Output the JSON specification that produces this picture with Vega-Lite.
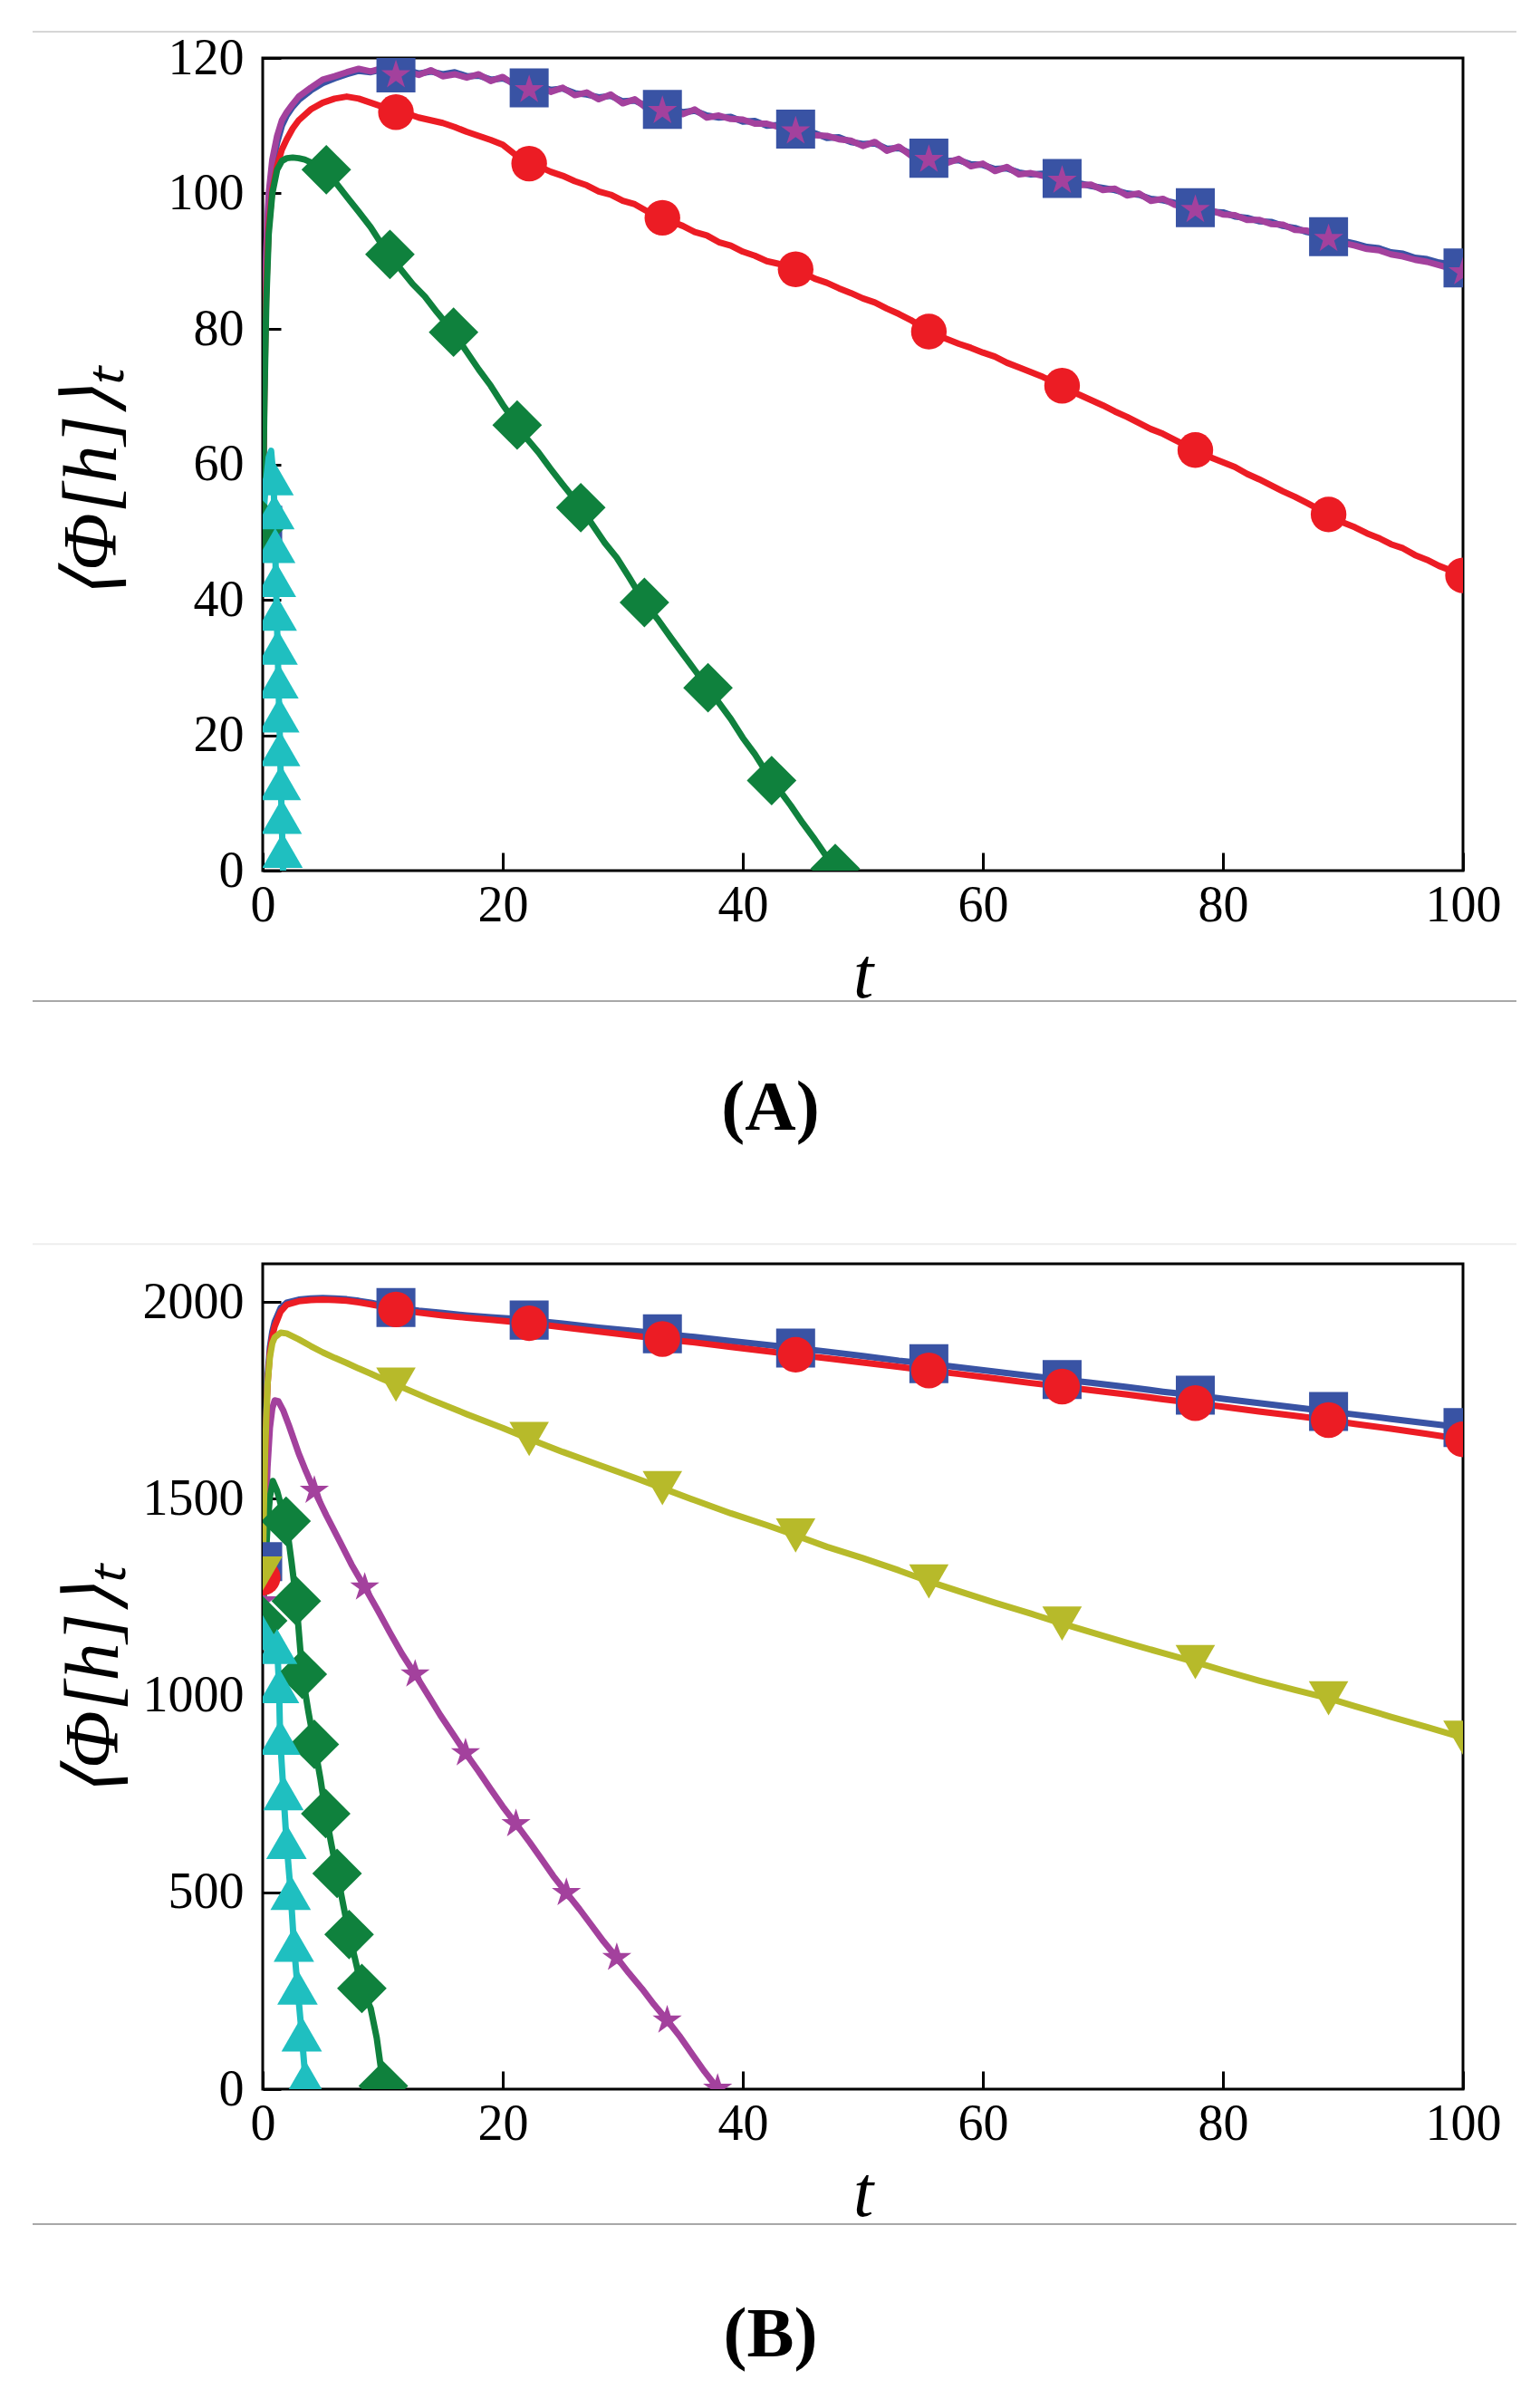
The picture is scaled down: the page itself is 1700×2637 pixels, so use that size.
{
"$schema":"https://vega.github.io/schema/vega-lite/v6.json",
"background":"white",
"padding":{"left":33,"top":32,"right":0,"bottom":0},
"config":{
 "view":{"stroke":"#000","strokeWidth":3},
 "axis":{"labelFont":"Liberation Serif","labelFontSize":56,"labelColor":"#000","tickColor":"#000","tickSize":-20,"tickWidth":3,"labelPadding":41,"domain":false,"grid":false,"labelFlush":false,"labelOverlap":false,"titleFont":"Liberation Serif","titleFontSize":80,"titleFontStyle":"italic","titleFontWeight":"normal","titleColor":"#000"},
 "axisX":{"titlePadding":10,"labelPadding":31},
 "axisY":{"titlePadding":40,"titleFontSize":84},
 "title":{"font":"Liberation Serif","fontSize":78,"fontWeight":"bold","color":"#000","orient":"bottom","anchor":"middle","frame":"group"}
},
"datasets":{
"a":[
{"s":"sq","t":0,"v":51,"m":1},{"s":"sq","t":0.15,"v":75},{"s":"sq","t":0.3,"v":90},{"s":"sq","t":0.5,"v":99},{"s":"sq","t":0.8,"v":104},{"s":"sq","t":1.2,"v":107.5},{"s":"sq","t":1.6,"v":110},{"s":"sq","t":2,"v":111.5},{"s":"sq","t":2.5,"v":112.8},{"s":"sq","t":3,"v":113.8},{"s":"sq","t":4,"v":115.2},{"s":"sq","t":5,"v":116.3},{"s":"sq","t":6,"v":117},{"s":"sq","t":7,"v":117.6},{"s":"sq","t":8,"v":118.1},{"s":"sq","t":9,"v":117.9},{"s":"sq","t":10,"v":118.3},{"s":"sq","t":11.1,"v":117.8,"m":1},{"s":"sq","t":12,"v":118.2},{"s":"sq","t":13,"v":117.7},{"s":"sq","t":14,"v":118},{"s":"sq","t":15,"v":117.6},{"s":"sq","t":16,"v":117.9},{"s":"sq","t":17,"v":117.3},{"s":"sq","t":18,"v":117.4},{"s":"sq","t":19,"v":116.8},{"s":"sq","t":20,"v":117},{"s":"sq","t":21,"v":116.2},{"s":"sq","t":22.2,"v":115.6,"m":1},{"s":"sq","t":23,"v":115.8},{"s":"sq","t":24,"v":115.3},{"s":"sq","t":25,"v":115.5},{"s":"sq","t":26,"v":114.8},{"s":"sq","t":27,"v":114.6},{"s":"sq","t":28,"v":114.2},{"s":"sq","t":29,"v":114.4},{"s":"sq","t":30,"v":113.6},{"s":"sq","t":31,"v":113.7},{"s":"sq","t":32,"v":112.9},{"s":"sq","t":33.3,"v":112.4,"m":1},{"s":"sq","t":34,"v":112.6},{"s":"sq","t":35,"v":112},{"s":"sq","t":36,"v":112.2},{"s":"sq","t":37,"v":111.5},{"s":"sq","t":38,"v":111.2},{"s":"sq","t":39,"v":111.3},{"s":"sq","t":40,"v":110.6},{"s":"sq","t":41,"v":110.7},{"s":"sq","t":42,"v":110},{"s":"sq","t":43,"v":110.1},{"s":"sq","t":44.4,"v":109.5,"m":1},{"s":"sq","t":45,"v":109},{"s":"sq","t":46,"v":108.9},{"s":"sq","t":47,"v":108.2},{"s":"sq","t":48,"v":108.3},{"s":"sq","t":49,"v":107.6},{"s":"sq","t":50,"v":107.3},{"s":"sq","t":51,"v":107.4},{"s":"sq","t":52,"v":106.6},{"s":"sq","t":53,"v":106.7},{"s":"sq","t":54,"v":105.9},{"s":"sq","t":55.5,"v":105.2,"m":1},{"s":"sq","t":56,"v":105.4},{"s":"sq","t":57,"v":104.8},{"s":"sq","t":58,"v":104.9},{"s":"sq","t":59,"v":104.3},{"s":"sq","t":60,"v":104.2},{"s":"sq","t":61,"v":103.6},{"s":"sq","t":62,"v":103.7},{"s":"sq","t":63,"v":103.1},{"s":"sq","t":64,"v":102.8},{"s":"sq","t":65,"v":102.9},{"s":"sq","t":66.6,"v":102.2,"m":1},{"s":"sq","t":67,"v":101.8},{"s":"sq","t":68,"v":101.5},{"s":"sq","t":69,"v":101.1},{"s":"sq","t":70,"v":100.8},{"s":"sq","t":71,"v":100.5},{"s":"sq","t":72,"v":100},{"s":"sq","t":73,"v":99.8},{"s":"sq","t":74,"v":99.2},{"s":"sq","t":75,"v":99},{"s":"sq","t":76,"v":98.6},{"s":"sq","t":77.7,"v":97.9,"m":1},{"s":"sq","t":78,"v":97.9},{"s":"sq","t":79,"v":97.3},{"s":"sq","t":80,"v":97.2},{"s":"sq","t":81,"v":96.6},{"s":"sq","t":82,"v":96.4},{"s":"sq","t":83,"v":95.9},{"s":"sq","t":84,"v":95.8},{"s":"sq","t":85,"v":95.2},{"s":"sq","t":86,"v":94.9},{"s":"sq","t":87,"v":94.3},{"s":"sq","t":88.8,"v":93.6,"m":1},{"s":"sq","t":89,"v":93.4},{"s":"sq","t":90,"v":93},{"s":"sq","t":91,"v":92.6},{"s":"sq","t":92,"v":92.1},{"s":"sq","t":93,"v":91.9},{"s":"sq","t":94,"v":91.3},{"s":"sq","t":95,"v":91.1},{"s":"sq","t":96,"v":90.5},{"s":"sq","t":97,"v":90.3},{"s":"sq","t":98,"v":89.8},{"s":"sq","t":99,"v":89.5},{"s":"sq","t":100,"v":89,"m":1},
{"s":"st","t":0,"v":51,"m":1},{"s":"st","t":0.15,"v":77},{"s":"st","t":0.3,"v":92},{"s":"st","t":0.5,"v":100},{"s":"st","t":0.8,"v":105},{"s":"st","t":1.2,"v":108.5},{"s":"st","t":1.6,"v":110.8},{"s":"st","t":2,"v":112},{"s":"st","t":2.5,"v":113.2},{"s":"st","t":3,"v":114.3},{"s":"st","t":4,"v":115.6},{"s":"st","t":5,"v":116.8},{"s":"st","t":6,"v":117.3},{"s":"st","t":7,"v":117.9},{"s":"st","t":8,"v":118.4},{"s":"st","t":9,"v":118},{"s":"st","t":10,"v":118.5},{"s":"st","t":11.1,"v":117.5,"m":1},{"s":"st","t":12,"v":118},{"s":"st","t":13,"v":117.5},{"s":"st","t":14,"v":118.2},{"s":"st","t":15,"v":117.3},{"s":"st","t":16,"v":117.6},{"s":"st","t":17,"v":117.1},{"s":"st","t":18,"v":117.6},{"s":"st","t":19,"v":116.6},{"s":"st","t":20,"v":117.2},{"s":"st","t":21,"v":116},{"s":"st","t":22.2,"v":115.3,"m":1},{"s":"st","t":23,"v":115.9},{"s":"st","t":24,"v":115},{"s":"st","t":25,"v":115.6},{"s":"st","t":26,"v":114.5},{"s":"st","t":27,"v":114.9},{"s":"st","t":28,"v":113.9},{"s":"st","t":29,"v":114.6},{"s":"st","t":30,"v":113.3},{"s":"st","t":31,"v":113.9},{"s":"st","t":32,"v":112.6},{"s":"st","t":33.3,"v":112.2,"m":1},{"s":"st","t":34,"v":112.8},{"s":"st","t":35,"v":111.7},{"s":"st","t":36,"v":112.4},{"s":"st","t":37,"v":111.2},{"s":"st","t":38,"v":111.5},{"s":"st","t":39,"v":111},{"s":"st","t":40,"v":110.9},{"s":"st","t":41,"v":110.3},{"s":"st","t":42,"v":110.3},{"s":"st","t":43,"v":109.8},{"s":"st","t":44.4,"v":109.2,"m":1},{"s":"st","t":45,"v":109.3},{"s":"st","t":46,"v":108.6},{"s":"st","t":47,"v":108.5},{"s":"st","t":48,"v":108},{"s":"st","t":49,"v":107.8},{"s":"st","t":50,"v":107},{"s":"st","t":51,"v":107.6},{"s":"st","t":52,"v":106.3},{"s":"st","t":53,"v":106.9},{"s":"st","t":54,"v":105.6},{"s":"st","t":55.5,"v":105,"m":1},{"s":"st","t":56,"v":105.6},{"s":"st","t":57,"v":104.5},{"s":"st","t":58,"v":105.1},{"s":"st","t":59,"v":104},{"s":"st","t":60,"v":104.4},{"s":"st","t":61,"v":103.3},{"s":"st","t":62,"v":103.9},{"s":"st","t":63,"v":102.8},{"s":"st","t":64,"v":103},{"s":"st","t":65,"v":102.6},{"s":"st","t":66.6,"v":101.9,"m":1},{"s":"st","t":67,"v":102},{"s":"st","t":68,"v":101.2},{"s":"st","t":69,"v":101.3},{"s":"st","t":70,"v":100.5},{"s":"st","t":71,"v":100.7},{"s":"st","t":72,"v":99.7},{"s":"st","t":73,"v":100},{"s":"st","t":74,"v":98.9},{"s":"st","t":75,"v":99.2},{"s":"st","t":76,"v":98.3},{"s":"st","t":77.7,"v":97.6,"m":1},{"s":"st","t":78,"v":97.6},{"s":"st","t":79,"v":97.5},{"s":"st","t":80,"v":96.9},{"s":"st","t":81,"v":96.8},{"s":"st","t":82,"v":96.1},{"s":"st","t":83,"v":96.1},{"s":"st","t":84,"v":95.5},{"s":"st","t":85,"v":95.4},{"s":"st","t":86,"v":94.6},{"s":"st","t":87,"v":94.5},{"s":"st","t":88.8,"v":93.3,"m":1},{"s":"st","t":89,"v":93.2},{"s":"st","t":90,"v":92.7},{"s":"st","t":91,"v":92.3},{"s":"st","t":92,"v":91.8},{"s":"st","t":93,"v":91.6},{"s":"st","t":94,"v":91},{"s":"st","t":95,"v":90.7},{"s":"st","t":96,"v":90.2},{"s":"st","t":97,"v":89.9},{"s":"st","t":98,"v":89.4},{"s":"st","t":99,"v":88.9},{"s":"st","t":100,"v":88.4,"m":1},
{"s":"ci","t":0,"v":51,"m":1},{"s":"ci","t":0.15,"v":72},{"s":"ci","t":0.3,"v":86},{"s":"ci","t":0.5,"v":95},{"s":"ci","t":0.8,"v":100.5},{"s":"ci","t":1.2,"v":104},{"s":"ci","t":1.6,"v":106.5},{"s":"ci","t":2,"v":108},{"s":"ci","t":2.5,"v":109.6},{"s":"ci","t":3,"v":110.8},{"s":"ci","t":4,"v":112.4},{"s":"ci","t":5,"v":113.4},{"s":"ci","t":6,"v":114},{"s":"ci","t":7,"v":114.3},{"s":"ci","t":8,"v":114},{"s":"ci","t":9,"v":113.4},{"s":"ci","t":10,"v":112.8},{"s":"ci","t":11.1,"v":112,"m":1},{"s":"ci","t":12,"v":111.8},{"s":"ci","t":13,"v":111.2},{"s":"ci","t":14,"v":110.8},{"s":"ci","t":15,"v":110.4},{"s":"ci","t":16,"v":109.8},{"s":"ci","t":17,"v":109.1},{"s":"ci","t":18,"v":108.5},{"s":"ci","t":19,"v":107.9},{"s":"ci","t":20,"v":107.2},{"s":"ci","t":21,"v":105.8},{"s":"ci","t":22.2,"v":104.4,"m":1},{"s":"ci","t":23,"v":104},{"s":"ci","t":24,"v":103.2},{"s":"ci","t":25,"v":102.6},{"s":"ci","t":26,"v":101.8},{"s":"ci","t":27,"v":101.2},{"s":"ci","t":28,"v":100.3},{"s":"ci","t":29,"v":99.8},{"s":"ci","t":30,"v":98.9},{"s":"ci","t":31,"v":98.4},{"s":"ci","t":32,"v":97.4},{"s":"ci","t":33.3,"v":96.4,"m":1},{"s":"ci","t":34,"v":95.9},{"s":"ci","t":35,"v":95.2},{"s":"ci","t":36,"v":94.3},{"s":"ci","t":37,"v":93.8},{"s":"ci","t":38,"v":92.8},{"s":"ci","t":39,"v":92.3},{"s":"ci","t":40,"v":91.4},{"s":"ci","t":41,"v":90.8},{"s":"ci","t":42,"v":90},{"s":"ci","t":43,"v":89.6},{"s":"ci","t":44.4,"v":88.8,"m":1},{"s":"ci","t":45,"v":88.3},{"s":"ci","t":46,"v":87.4},{"s":"ci","t":47,"v":86.8},{"s":"ci","t":48,"v":86},{"s":"ci","t":49,"v":85.3},{"s":"ci","t":50,"v":84.5},{"s":"ci","t":51,"v":83.9},{"s":"ci","t":52,"v":83},{"s":"ci","t":53,"v":82.2},{"s":"ci","t":54,"v":81.3},{"s":"ci","t":55.5,"v":79.6,"m":1},{"s":"ci","t":56,"v":79.2},{"s":"ci","t":57,"v":78.5},{"s":"ci","t":58,"v":77.8},{"s":"ci","t":59,"v":77.2},{"s":"ci","t":60,"v":76.5},{"s":"ci","t":61,"v":75.9},{"s":"ci","t":62,"v":75},{"s":"ci","t":63,"v":74.3},{"s":"ci","t":64,"v":73.6},{"s":"ci","t":65,"v":72.9},{"s":"ci","t":66.6,"v":71.6,"m":1},{"s":"ci","t":67,"v":71.2},{"s":"ci","t":68,"v":70.3},{"s":"ci","t":69,"v":69.5},{"s":"ci","t":70,"v":68.7},{"s":"ci","t":71,"v":67.8},{"s":"ci","t":72,"v":67},{"s":"ci","t":73,"v":66.1},{"s":"ci","t":74,"v":65.2},{"s":"ci","t":75,"v":64.5},{"s":"ci","t":76,"v":63.6},{"s":"ci","t":77.7,"v":62.1,"m":1},{"s":"ci","t":78,"v":61.9},{"s":"ci","t":79,"v":61},{"s":"ci","t":80,"v":60.3},{"s":"ci","t":81,"v":59.6},{"s":"ci","t":82,"v":58.6},{"s":"ci","t":83,"v":57.8},{"s":"ci","t":84,"v":56.9},{"s":"ci","t":85,"v":56},{"s":"ci","t":86,"v":55.2},{"s":"ci","t":87,"v":54.3},{"s":"ci","t":88.8,"v":52.6,"m":1},{"s":"ci","t":89,"v":52.4},{"s":"ci","t":90,"v":51.4},{"s":"ci","t":91,"v":50.7},{"s":"ci","t":92,"v":49.8},{"s":"ci","t":93,"v":49.1},{"s":"ci","t":94,"v":48.2},{"s":"ci","t":95,"v":47.6},{"s":"ci","t":96,"v":46.6},{"s":"ci","t":97,"v":45.9},{"s":"ci","t":98,"v":45},{"s":"ci","t":99,"v":44.3},{"s":"ci","t":100,"v":43.6,"m":1},
{"s":"di","t":0,"v":51,"m":1},{"s":"di","t":0.15,"v":70},{"s":"di","t":0.3,"v":84},{"s":"di","t":0.5,"v":94},{"s":"di","t":0.8,"v":100},{"s":"di","t":1.2,"v":103.5},{"s":"di","t":1.6,"v":104.8},{"s":"di","t":2,"v":105.2},{"s":"di","t":2.5,"v":105.3},{"s":"di","t":3,"v":105.2},{"s":"di","t":3.5,"v":105},{"s":"di","t":4,"v":104.6},{"s":"di","t":4.6,"v":104},{"s":"di","t":5.3,"v":103.5,"m":1},{"s":"di","t":6,"v":101.8},{"s":"di","t":7,"v":99.5},{"s":"di","t":8,"v":97.3},{"s":"di","t":9,"v":95},{"s":"di","t":9.8,"v":92.8},{"s":"di","t":10.6,"v":91,"m":1},{"s":"di","t":11.5,"v":88.8},{"s":"di","t":12.5,"v":86.6},{"s":"di","t":13.5,"v":84.8},{"s":"di","t":14.5,"v":82.5},{"s":"di","t":15.2,"v":81},{"s":"di","t":15.9,"v":79.5,"m":1},{"s":"di","t":17,"v":76.6},{"s":"di","t":18,"v":74},{"s":"di","t":19,"v":71.6},{"s":"di","t":20,"v":68.8},{"s":"di","t":21.2,"v":65.8,"m":1},{"s":"di","t":22,"v":63.8},{"s":"di","t":23,"v":61.7},{"s":"di","t":24,"v":59.3},{"s":"di","t":25,"v":57},{"s":"di","t":26,"v":54.8},{"s":"di","t":26.5,"v":53.6,"m":1},{"s":"di","t":27.5,"v":51},{"s":"di","t":28.5,"v":48.4},{"s":"di","t":29.5,"v":46.2},{"s":"di","t":30.5,"v":43.4},{"s":"di","t":31.8,"v":39.6,"m":1},{"s":"di","t":33,"v":36.9},{"s":"di","t":34,"v":34.4},{"s":"di","t":35,"v":32},{"s":"di","t":36,"v":29.6},{"s":"di","t":37.1,"v":27,"m":1},{"s":"di","t":38,"v":24.8},{"s":"di","t":39,"v":22.4},{"s":"di","t":40,"v":19.6},{"s":"di","t":41,"v":17.2},{"s":"di","t":42.4,"v":13.3,"m":1},{"s":"di","t":43,"v":12},{"s":"di","t":44,"v":9.6},{"s":"di","t":45,"v":7},{"s":"di","t":46,"v":4.6},{"s":"di","t":47,"v":2},{"s":"di","t":47.7,"v":0.3,"m":1},
{"s":"tr","t":0,"v":51},{"s":"tr","t":0.25,"v":57},{"s":"tr","t":0.5,"v":61},{"s":"tr","t":0.7,"v":62},{"s":"tr","t":0.9,"v":58,"m":1},{"s":"tr","t":0.97,"v":53,"m":1},{"s":"tr","t":1.04,"v":48,"m":1},{"s":"tr","t":1.1,"v":43,"m":1},{"s":"tr","t":1.17,"v":38,"m":1},{"s":"tr","t":1.24,"v":33,"m":1},{"s":"tr","t":1.31,"v":28,"m":1},{"s":"tr","t":1.38,"v":23,"m":1},{"s":"tr","t":1.45,"v":18,"m":1},{"s":"tr","t":1.51,"v":13,"m":1},{"s":"tr","t":1.58,"v":8,"m":1},{"s":"tr","t":1.65,"v":3,"m":1},{"s":"tr","t":1.7,"v":0}
],
"b":[
{"s":"sq","t":0,"v":1340,"m":1},{"s":"sq","t":0.1,"v":1500},{"s":"sq","t":0.2,"v":1640},{"s":"sq","t":0.4,"v":1810},{"s":"sq","t":0.6,"v":1885},{"s":"sq","t":0.8,"v":1925},{"s":"sq","t":1,"v":1950},{"s":"sq","t":1.5,"v":1985},{"s":"sq","t":2,"v":1998},{"s":"sq","t":3,"v":2006},{"s":"sq","t":4,"v":2009},{"s":"sq","t":5,"v":2010},{"s":"sq","t":6,"v":2009},{"s":"sq","t":7,"v":2007},{"s":"sq","t":8,"v":2003},{"s":"sq","t":9,"v":1998},{"s":"sq","t":10,"v":1992},{"s":"sq","t":11.1,"v":1986,"m":1},{"s":"sq","t":13,"v":1978},{"s":"sq","t":15,"v":1972},{"s":"sq","t":17,"v":1966},{"s":"sq","t":19,"v":1961},{"s":"sq","t":21,"v":1957},{"s":"sq","t":22.2,"v":1954,"m":1},{"s":"sq","t":25,"v":1945},{"s":"sq","t":28,"v":1935},{"s":"sq","t":31,"v":1926},{"s":"sq","t":33.3,"v":1919,"m":1},{"s":"sq","t":36,"v":1911},{"s":"sq","t":39,"v":1901},{"s":"sq","t":42,"v":1891},{"s":"sq","t":44.4,"v":1883,"m":1},{"s":"sq","t":47,"v":1874},{"s":"sq","t":50,"v":1863},{"s":"sq","t":53,"v":1851},{"s":"sq","t":55.5,"v":1843,"m":1},{"s":"sq","t":58,"v":1834},{"s":"sq","t":61,"v":1823},{"s":"sq","t":64,"v":1812},{"s":"sq","t":66.6,"v":1803,"m":1},{"s":"sq","t":69,"v":1795},{"s":"sq","t":72,"v":1784},{"s":"sq","t":75,"v":1772},{"s":"sq","t":77.7,"v":1763,"m":1},{"s":"sq","t":80,"v":1754},{"s":"sq","t":83,"v":1743},{"s":"sq","t":86,"v":1732},{"s":"sq","t":88.8,"v":1722,"m":1},{"s":"sq","t":91,"v":1714},{"s":"sq","t":94,"v":1703},{"s":"sq","t":97,"v":1692},{"s":"sq","t":100,"v":1681,"m":1},
{"s":"st","t":0,"v":1240,"m":1},{"s":"st","t":0.2,"v":1420},{"s":"st","t":0.4,"v":1580},{"s":"st","t":0.6,"v":1680},{"s":"st","t":0.8,"v":1730},{"s":"st","t":1,"v":1750},{"s":"st","t":1.3,"v":1748},{"s":"st","t":1.7,"v":1725},{"s":"st","t":2.2,"v":1685},{"s":"st","t":3,"v":1615},{"s":"st","t":3.6,"v":1570},{"s":"st","t":4.3,"v":1521,"m":1},{"s":"st","t":5.3,"v":1458},{"s":"st","t":6.4,"v":1393},{"s":"st","t":7.4,"v":1333},{"s":"st","t":8.5,"v":1275,"m":1},{"s":"st","t":9.6,"v":1216},{"s":"st","t":10.6,"v":1160},{"s":"st","t":11.6,"v":1106},{"s":"st","t":12.7,"v":1054,"m":1},{"s":"st","t":13.8,"v":1000},{"s":"st","t":14.8,"v":950},{"s":"st","t":15.9,"v":900},{"s":"st","t":16.9,"v":854,"m":1},{"s":"st","t":18,"v":807},{"s":"st","t":19,"v":762},{"s":"st","t":20,"v":718},{"s":"st","t":21.1,"v":674,"m":1},{"s":"st","t":22.2,"v":629},{"s":"st","t":23.2,"v":586},{"s":"st","t":24.2,"v":542},{"s":"st","t":25.3,"v":499,"m":1},{"s":"st","t":26.4,"v":457},{"s":"st","t":27.4,"v":416},{"s":"st","t":28.4,"v":375},{"s":"st","t":29.5,"v":334,"m":1},{"s":"st","t":30.5,"v":295},{"s":"st","t":31.6,"v":255},{"s":"st","t":32.6,"v":215},{"s":"st","t":33.7,"v":175,"m":1},{"s":"st","t":34.8,"v":132},{"s":"st","t":35.8,"v":88},{"s":"st","t":36.8,"v":45},{"s":"st","t":37.9,"v":2,"m":1},
{"s":"ci","t":0,"v":1300,"m":1},{"s":"ci","t":0.1,"v":1470},{"s":"ci","t":0.2,"v":1610},{"s":"ci","t":0.4,"v":1790},{"s":"ci","t":0.6,"v":1870},{"s":"ci","t":0.8,"v":1912},{"s":"ci","t":1,"v":1938},{"s":"ci","t":1.5,"v":1976},{"s":"ci","t":2,"v":1993},{"s":"ci","t":3,"v":2002},{"s":"ci","t":4,"v":2005},{"s":"ci","t":5,"v":2006},{"s":"ci","t":6,"v":2005},{"s":"ci","t":7,"v":2003},{"s":"ci","t":8,"v":1999},{"s":"ci","t":9,"v":1994},{"s":"ci","t":10,"v":1988},{"s":"ci","t":11.1,"v":1981,"m":1},{"s":"ci","t":13,"v":1973},{"s":"ci","t":15,"v":1966},{"s":"ci","t":17,"v":1960},{"s":"ci","t":19,"v":1955},{"s":"ci","t":21,"v":1949},{"s":"ci","t":22.2,"v":1946,"m":1},{"s":"ci","t":25,"v":1936},{"s":"ci","t":28,"v":1925},{"s":"ci","t":31,"v":1914},{"s":"ci","t":33.3,"v":1906,"m":1},{"s":"ci","t":36,"v":1897},{"s":"ci","t":39,"v":1886},{"s":"ci","t":42,"v":1875},{"s":"ci","t":44.4,"v":1866,"m":1},{"s":"ci","t":47,"v":1857},{"s":"ci","t":50,"v":1846},{"s":"ci","t":53,"v":1835},{"s":"ci","t":55.5,"v":1826,"m":1},{"s":"ci","t":58,"v":1817},{"s":"ci","t":61,"v":1806},{"s":"ci","t":64,"v":1794},{"s":"ci","t":66.6,"v":1785,"m":1},{"s":"ci","t":69,"v":1776},{"s":"ci","t":72,"v":1765},{"s":"ci","t":75,"v":1753},{"s":"ci","t":77.7,"v":1743,"m":1},{"s":"ci","t":80,"v":1734},{"s":"ci","t":83,"v":1722},{"s":"ci","t":86,"v":1711},{"s":"ci","t":88.8,"v":1700,"m":1},{"s":"ci","t":91,"v":1690},{"s":"ci","t":94,"v":1678},{"s":"ci","t":97,"v":1665},{"s":"ci","t":100,"v":1651,"m":1},
{"s":"di","t":0,"v":1190,"m":1},{"s":"di","t":0.2,"v":1320},{"s":"di","t":0.4,"v":1430},{"s":"di","t":0.6,"v":1505},{"s":"di","t":0.85,"v":1545},{"s":"di","t":1.2,"v":1520},{"s":"di","t":1.6,"v":1475},{"s":"di","t":1.95,"v":1443,"m":1},{"s":"di","t":2.4,"v":1340},{"s":"di","t":2.8,"v":1240,"m":1},{"s":"di","t":3.3,"v":1054,"m":1},{"s":"di","t":3.8,"v":960},{"s":"di","t":4.3,"v":876,"m":1},{"s":"di","t":4.8,"v":790},{"s":"di","t":5.25,"v":700,"m":1},{"s":"di","t":5.7,"v":625},{"s":"di","t":6.2,"v":548,"m":1},{"s":"di","t":6.7,"v":470},{"s":"di","t":7.2,"v":393,"m":1},{"s":"di","t":7.7,"v":330},{"s":"di","t":8.26,"v":256,"m":1},{"s":"di","t":9,"v":205},{"s":"di","t":9.5,"v":130},{"s":"di","t":9.8,"v":64},{"s":"di","t":10.05,"v":8,"m":1},
{"s":"tr","t":0,"v":1160,"m":1},{"s":"tr","t":0.5,"v":1150},{"s":"tr","t":0.9,"v":1138},{"s":"tr","t":1.2,"v":1125,"m":1},{"s":"tr","t":1.36,"v":1025,"m":1},{"s":"tr","t":1.45,"v":894,"m":1},{"s":"tr","t":1.73,"v":753,"m":1},{"s":"tr","t":1.98,"v":629,"m":1},{"s":"tr","t":2.33,"v":500,"m":1},{"s":"tr","t":2.6,"v":368,"m":1},{"s":"tr","t":2.9,"v":259,"m":1},{"s":"tr","t":3.25,"v":140,"m":1},{"s":"tr","t":3.55,"v":28,"m":1},{"s":"tr","t":3.65,"v":0},
{"s":"td","t":0,"v":1310,"m":1},{"s":"td","t":0.1,"v":1480},{"s":"td","t":0.2,"v":1620},{"s":"td","t":0.4,"v":1790},{"s":"td","t":0.6,"v":1860},{"s":"td","t":0.8,"v":1895},{"s":"td","t":1,"v":1910},{"s":"td","t":1.5,"v":1922},{"s":"td","t":2,"v":1920},{"s":"td","t":3,"v":1905},{"s":"td","t":4,"v":1888},{"s":"td","t":5,"v":1872},{"s":"td","t":6,"v":1858},{"s":"td","t":7,"v":1845},{"s":"td","t":8,"v":1831},{"s":"td","t":9,"v":1818},{"s":"td","t":10,"v":1804},{"s":"td","t":11.1,"v":1790,"m":1},{"s":"td","t":14,"v":1752},{"s":"td","t":17,"v":1715},{"s":"td","t":20,"v":1680},{"s":"td","t":22.2,"v":1652,"m":1},{"s":"td","t":25,"v":1619},{"s":"td","t":28,"v":1586},{"s":"td","t":31,"v":1553},{"s":"td","t":33.3,"v":1527,"m":1},{"s":"td","t":36,"v":1496},{"s":"td","t":39,"v":1463},{"s":"td","t":42,"v":1433},{"s":"td","t":44.4,"v":1407,"m":1},{"s":"td","t":47,"v":1378},{"s":"td","t":50,"v":1349},{"s":"td","t":53,"v":1318},{"s":"td","t":55.5,"v":1290,"m":1},{"s":"td","t":58,"v":1265},{"s":"td","t":61,"v":1236},{"s":"td","t":64,"v":1208},{"s":"td","t":66.6,"v":1183,"m":1},{"s":"td","t":69,"v":1161},{"s":"td","t":72,"v":1134},{"s":"td","t":75,"v":1108},{"s":"td","t":77.7,"v":1085,"m":1},{"s":"td","t":80,"v":1064},{"s":"td","t":83,"v":1038},{"s":"td","t":86,"v":1014},{"s":"td","t":88.8,"v":993,"m":1},{"s":"td","t":91,"v":973},{"s":"td","t":94,"v":946},{"s":"td","t":97,"v":920},{"s":"td","t":100,"v":893,"m":1}
]
},
"spacing":105,
"vconcat":[
{
 "width":1325,"height":897,
 "title":{"text":"(A)","offset":69,"dx":-102},
 "layer":[
  {"data":{"name":"a"},
   "mark":{"type":"line","clip":true,"strokeWidth":7,"strokeJoin":"round"},
   "encoding":{
    "x":{"field":"t","type":"quantitative","scale":{"domain":[0,100],"nice":false,"zero":false},"axis":{"values":[0,20,40,60,80,100],"title":"t"}},
    "y":{"field":"v","type":"quantitative","scale":{"domain":[0,120],"nice":false,"zero":false},"axis":{"values":[0,20,40,60,80,100,120],"title":"⟨Φ[h]⟩ₜ","titleY":470}},
    "color":{"field":"s","type":"nominal","scale":{"domain":["sq","st","ci","di","tr","td"],"range":["#3953a4","#a3419d","#ec1c24","#0f813d","#1fbfc0","#b7ba2a"]},"legend":null}
   }},
  {"data":{"name":"a"},
   "transform":[{"filter":"datum.m == 1"}],
   "mark":{"type":"point","filled":true,"opacity":1,"strokeWidth":0,"clip":true},
   "encoding":{
    "x":{"field":"t","type":"quantitative"},
    "y":{"field":"v","type":"quantitative"},
    "color":{"field":"s","type":"nominal","scale":{"domain":["sq","st","ci","di","tr","td"],"range":["#3953a4","#a3419d","#ec1c24","#0f813d","#1fbfc0","#b7ba2a"]},"legend":null},
    "shape":{"field":"s","type":"nominal","scale":{"domain":["sq","st","ci","di","tr","td"],"range":["square","M0,-1L0.2245,-0.309L0.951,-0.309L0.363,0.118L0.588,0.809L0,0.382L-0.588,0.809L-0.363,0.118L-0.951,-0.309L-0.2245,-0.309Z","circle","diamond","triangle-up","triangle-down"]},"legend":null},
    "size":{"field":"s","type":"nominal","scale":{"type":"ordinal","domain":["sq","st","ci","di","tr","td"],"range":[1850,1150,1550,3000,2000,1900]},"legend":null}
   }},
  {"data":{"values":[{"sep":"top"}]},
   "mark":{"type":"rule","color":"#d6d6d6","strokeWidth":2},
   "encoding":{"x":{"datum":-19.17,"type":"quantitative"},"x2":{"datum":104.45},"y":{"datum":123.88,"type":"quantitative"}}},
  {"data":{"values":[{"sep":"bottom"}]},
   "mark":{"type":"rule","color":"#a8a8a8","strokeWidth":2},
   "encoding":{"x":{"datum":-19.17,"type":"quantitative"},"x2":{"datum":104.45},"y":{"datum":-19.26,"type":"quantitative"}}}
 ]
},
{
 "width":1325,"height":911,
 "title":{"text":"(B)","offset":78,"dx":-102},
 "layer":[
  {"data":{"name":"b"},
   "mark":{"type":"line","clip":true,"strokeWidth":7,"strokeJoin":"round"},
   "encoding":{
    "x":{"field":"t","type":"quantitative","scale":{"domain":[0,100],"nice":false,"zero":false},"axis":{"values":[0,20,40,60,80,100],"title":"t"}},
    "y":{"field":"v","type":"quantitative","scale":{"domain":[0,2097],"nice":false,"zero":false},"axis":{"values":[0,500,1000,1500,2000],"format":"d","title":"⟨Φ[h]⟩ₜ","titleY":461,"titlePadding":10}},
    "color":{"field":"s","type":"nominal","scale":{"domain":["sq","st","ci","di","tr","td"],"range":["#3953a4","#a3419d","#ec1c24","#0f813d","#1fbfc0","#b7ba2a"]},"legend":null}
   }},
  {"data":{"name":"b"},
   "transform":[{"filter":"datum.m == 1"}],
   "mark":{"type":"point","filled":true,"opacity":1,"strokeWidth":0,"clip":true},
   "encoding":{
    "x":{"field":"t","type":"quantitative"},
    "y":{"field":"v","type":"quantitative"},
    "color":{"field":"s","type":"nominal","scale":{"domain":["sq","st","ci","di","tr","td"],"range":["#3953a4","#a3419d","#ec1c24","#0f813d","#1fbfc0","#b7ba2a"]},"legend":null},
    "shape":{"field":"s","type":"nominal","scale":{"domain":["sq","st","ci","di","tr","td"],"range":["square","M0,-1L0.2245,-0.309L0.951,-0.309L0.363,0.118L0.588,0.809L0,0.382L-0.588,0.809L-0.363,0.118L-0.951,-0.309L-0.2245,-0.309Z","circle","diamond","triangle-up","triangle-down"]},"legend":null},
    "size":{"field":"s","type":"nominal","scale":{"type":"ordinal","domain":["sq","st","ci","di","tr","td"],"range":[1850,1150,1550,3000,2000,1900]},"legend":null}
   }},
  {"data":{"values":[{"sep":"top"}]},
   "mark":{"type":"rule","color":"#eeeeee","strokeWidth":2},
   "encoding":{"x":{"datum":-19.17,"type":"quantitative"},"x2":{"datum":104.45},"y":{"datum":2147.3,"type":"quantitative"}}},
  {"data":{"values":[{"sep":"bottom"}]},
   "mark":{"type":"rule","color":"#a8a8a8","strokeWidth":2},
   "encoding":{"x":{"datum":-19.17,"type":"quantitative"},"x2":{"datum":104.45},"y":{"datum":-343,"type":"quantitative"}}}
 ]
}
]
}
